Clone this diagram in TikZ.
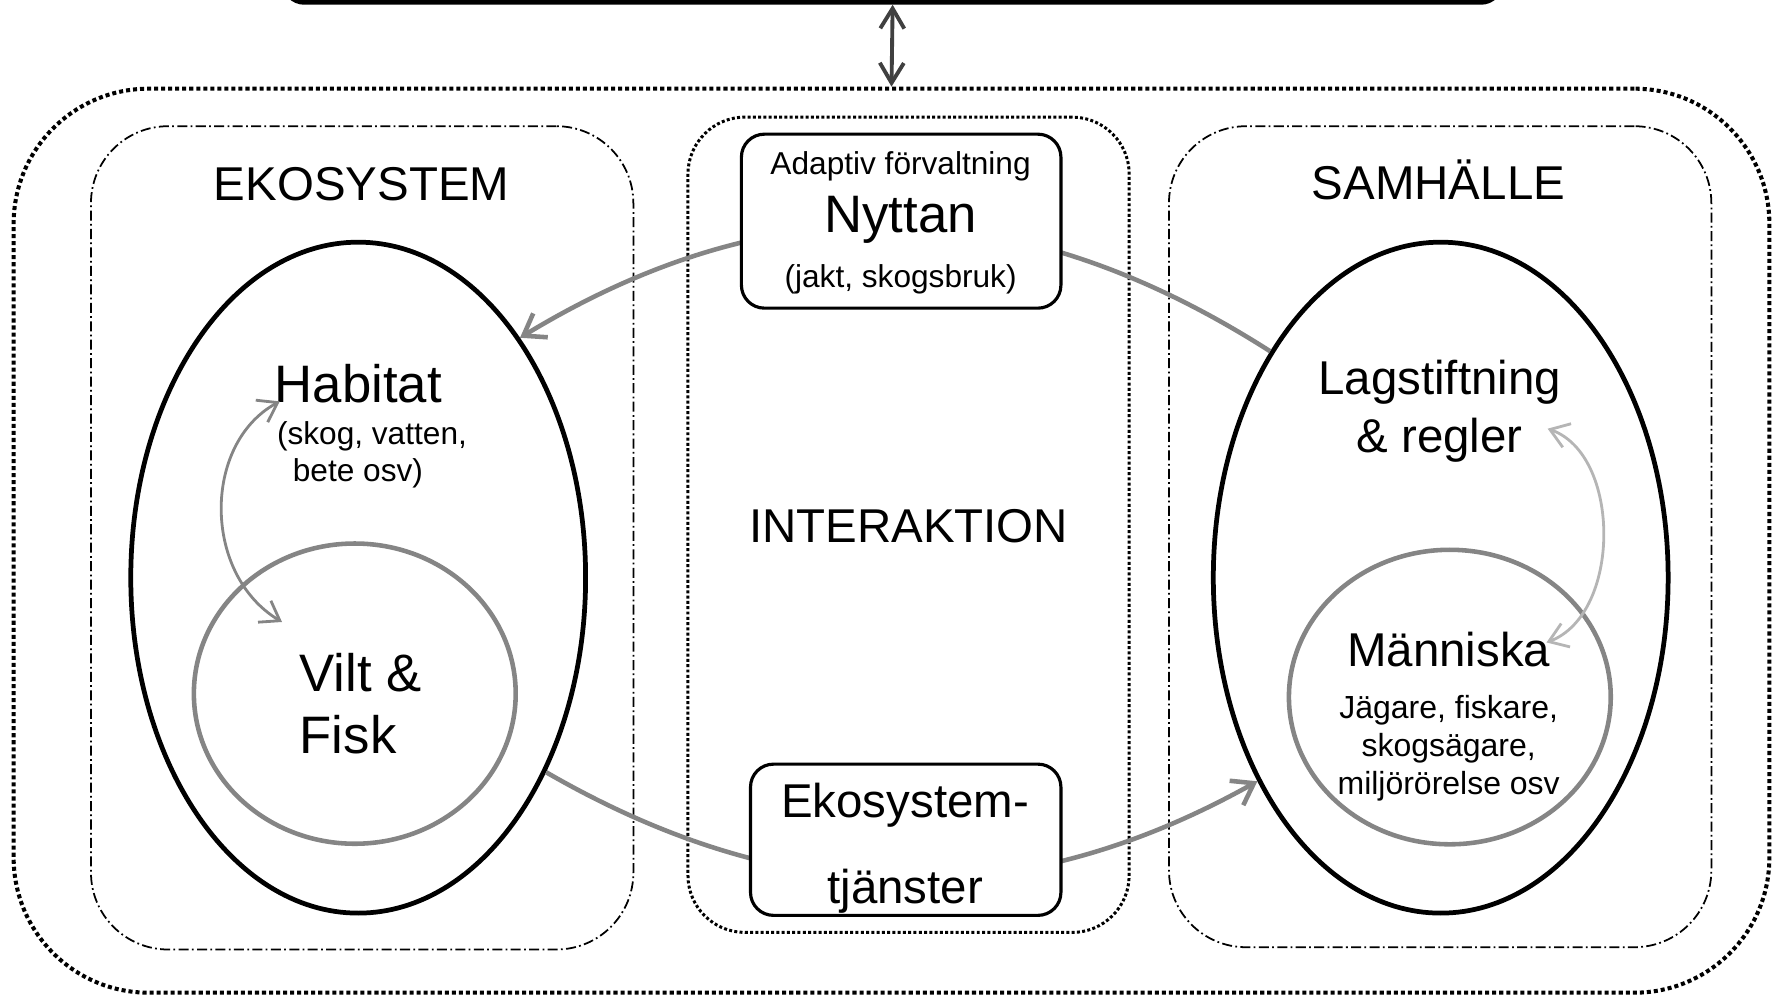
\documentclass[tikz,border=0pt]{standalone}
\usepackage{fontspec}
\setmainfont{Liberation Sans}
\usetikzlibrary{shapes.geometric,arrows.meta,positioning,fit}
\definecolor{arcgray}{HTML}{858585}
\definecolor{palegray}{HTML}{B5B5B5}
\definecolor{linkgray}{HTML}{404040}
\tikzset{
 topframe/.style={draw, line width=1.4pt, rounded corners=2mm, inner sep=0pt},
 outerframe/.style={draw, line width=1.15pt, dash pattern=on 1.15pt off 0.85pt, rounded corners=13.5mm, inner sep=0pt},
 sideframe/.style={draw, line width=0.5pt, dash pattern=on 2.85pt off 0.95pt on 0.5pt off 0.95pt, rounded corners=7.7mm, inner sep=0pt},
 midframe/.style={draw, line width=0.85pt, dash pattern=on 0.85pt off 0.65pt, rounded corners=5.7mm, inner sep=0pt},
 textbox/.style={draw, fill=white, line width=0.9pt, rounded corners=2.3mm, inner sep=0pt},
 bigell/.style={ellipse, draw, line width=1.35pt, minimum width=45.48mm, minimum height=67.09mm, inner sep=0pt},
 smallell/.style={ellipse, draw=arcgray, line width=1.3pt, inner sep=0pt},
 flow/.style={draw=arcgray, line width=1.3pt, -{Straight Barb[length=2mm,width=2.8mm]}},
 cycleA/.style={draw=arcgray, line width=0.8pt, {Straight Barb[length=1.8mm,width=2.5mm]}-{Straight Barb[length=1.8mm,width=2.5mm]}},
 cycleB/.style={draw=palegray, line width=0.8pt, {Straight Barb[length=1.8mm,width=2.5mm]}-{Straight Barb[length=1.8mm,width=2.5mm]}},
 link/.style={draw=linkgray, line width=1.1pt, {Straight Barb[length=2mm,width=2.4mm]}-{Straight Barb[length=2mm,width=2.4mm]}},
 huge/.style={inner sep=0pt, font=\fontsize{15}{17.8}\selectfont},
 large/.style={inner sep=0pt, font=\fontsize{13.5}{16.5}\selectfont},
 small/.style={inner sep=0pt, font=\fontsize{9}{10.4}\selectfont}
}

\begin{document}
\begin{tikzpicture}[x=0.113712mm, y=-0.113712mm]
 \useasboundingbox (0,0) rectangle (1568,877);
 \clip (0,0) rectangle (1568,877);

 % frames
 \node[topframe, fit={(250,-80) (1320,2)}] (top) {};
 \node[outerframe, fit={(12,78) (1556,873)}] (outer) {};
 \node[sideframe, fit={(80,111) (557,835)}] (ekoframe) {};
 \node[sideframe, fit={(1028,111) (1505,833)}] (samframe) {};
 \node[midframe, fit={(605,103) (993,820)}] (inter) {};

 % link to the box above
 \draw[link] (top.south) -- (outer.north);

 % ellipses
 \node[bigell] (lEll) at (315,508) {};
 \node[bigell] (rEll) at (1267,508) {};
 \node[smallell, minimum width=32.18mm, minimum height=30.02mm] (lCirc) at (312,610) {};
 \node[smallell, minimum width=32.18mm, minimum height=29.45mm] (rCirc) at (1275,613) {};

 % flows
 \draw[flow] (rEll.127) .. controls (892,165) and (678,163) .. (lEll.56);
 \draw[flow] (lEll.-46) .. controls (691,801) and (895,805) .. (rEll.228);

 % boxes
 \node[textbox, fit={(652,118) (933,271)}] (nytbox) {};
 \node[textbox, fit={(660,672) (933,805)}] (tjbox) {};

 % labels
 \node[large] (eko) at (318,162) {EKOSYSTEM};
 \node[large] (sam) at (1265,158) {SAMHÄLLE};
 \node[large] (interlbl) at (799,463) {INTERAKTION};
 \node[huge] (hab) at (315,337) {Habitat};
 \node[small, align=left, anchor=west] (habsub) at (243,400) {(skog, vatten,\\\hspace{4.5pt}bete osv)};
 \node[huge, align=left, anchor=west] (vilt) at (263,619) {Vilt \&\\Fisk};
 \node[large, align=center] (lag) at (1266,362) {Lagstiftning\\\& regler};
 \node[large] (man) at (1274,571) {Människa};
 \node[small, align=center, font=\fontsize{9.1}{10.8}\selectfont] (manSub) at (1274,658) {Jägare, fiskare,\\skogsägare,\\miljörörelse osv};
 \node[huge] (nyt) at (792,193) {Nyttan};
 \node[small] (adapt) at (792,146) {Adaptiv förvaltning};
 \node[small] (nytSub) at (792,246) {(jakt, skogsbruk)};
 \node[large, align=center, font=\fontsize{13.5}{24.3}\selectfont] (tj) at (796,746) {Ekosystem-\\tjänster};

 % cycles inside the ellipses
 \coordinate (habTop) at (246,353);
 \coordinate (viltIn) at (248,547);
 \draw[cycleA] (habTop) .. controls (178,390) and (178,505) .. (viltIn);
 \coordinate (lagIn) at (1361,377);
 \coordinate (manIn) at (1360,565);
 \draw[cycleB] (lagIn) .. controls (1426,400) and (1426,540) .. (manIn);
\end{tikzpicture}
\end{document}
